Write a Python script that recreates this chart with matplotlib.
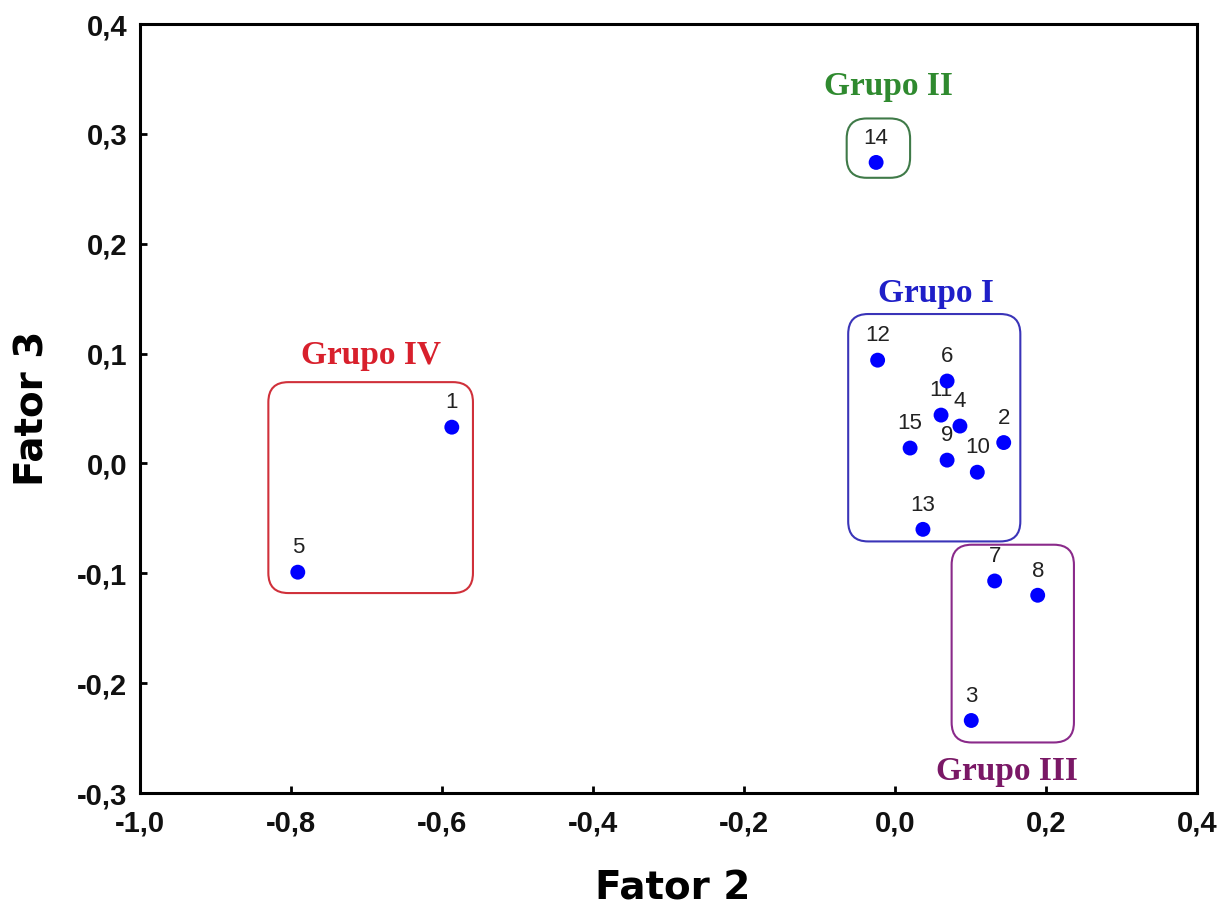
import matplotlib
matplotlib.use("Agg")
import matplotlib.pyplot as plt
from matplotlib.patches import FancyBboxPatch
from matplotlib.ticker import FuncFormatter, MultipleLocator
from matplotlib.transforms import offset_copy

# Scores of the 15 samples on factors 2 and 3
sample_ids = ["1", "2", "3", "4", "5", "6", "7", "8", "9", "10",
              "11", "12", "13", "14", "15"]
fator2 = [-0.587, 0.144, 0.101, 0.086, -0.791, 0.069, 0.132, 0.189, 0.069, 0.109,
          0.061, -0.023, 0.037, -0.025, 0.020]
fator3 = [0.033, 0.019, -0.234, 0.034, -0.099, 0.075, -0.107, -0.120, 0.003, -0.008,
          0.044, 0.094, -0.060, 0.274, 0.014]

# Group enclosures (x0, x1, y0, y1) in factor units
group_names = ["Grupo I", "Grupo II", "Grupo III", "Grupo IV"]
group_bounds = [(-0.062, 0.166, -0.071, 0.136),
                (-0.064, 0.020, 0.260, 0.314),
                (0.075, 0.237, -0.254, -0.074),
                (-0.830, -0.559, -0.118, 0.074)]
group_edge = ["#3a34b8", "#3f7a48", "#8a2a8a", "#d0303a"]
group_text = ["#1f1fc8", "#2f8a2f", "#7a1866", "#d8202c"]
# title placement: (dx, dy) in points from box top (or bottom for "below")
group_title_pos = [("above", 1, 9), ("above", 7, 17), ("below", -4, -27), ("above", 0, 13)]

W, H, DPI = 1231, 909, 100
fig = plt.figure(figsize=(W / DPI, H / DPI), dpi=DPI)
ax = fig.add_axes([140 / W, 1 - 793 / H, (1197 - 140) / W, (793 - 24) / H])

xlim = (-1.0, 0.4)
ylim = (-0.3, 0.4)
ax.set_xlim(*xlim)
ax.set_ylim(*ylim)

# pixels per data unit on each axis, so rounded corners stay circular
px_x = (1197 - 140) / (xlim[1] - xlim[0])
px_y = (793 - 24) / (ylim[1] - ylim[0])
aspect = px_x / px_y
corner_px = 20

for name, (x0, x1, y0, y1), ec, tc, (side, dx, dy) in zip(
        group_names, group_bounds, group_edge, group_text, group_title_pos):
    box = FancyBboxPatch((x0, y0), x1 - x0, y1 - y0,
                         boxstyle=f"round,pad=0,rounding_size={corner_px / px_x}",
                         mutation_aspect=aspect,
                         fc="none", ec=ec, lw=1.5, zorder=2)
    ax.add_patch(box)
    xc = (x0 + x1) / 2
    yref = y1 if side == "above" else y0
    tr = offset_copy(ax.transData, fig=fig, x=dx, y=dy, units="points")
    ax.text(xc, yref, name, transform=tr, ha="center", va="baseline", color=tc,
            family="Liberation Serif", fontweight="bold", fontsize=24, zorder=4)

# Sample numbers sit above each point; the dots are drawn over them
for sid, x, y in zip(sample_ids, fator2, fator3):
    ax.annotate(sid, (x, y), xytext=(0, 13.5), textcoords="offset points",
                ha="center", va="baseline", fontsize=16, color="#222222",
                family="Liberation Sans", zorder=3)

ax.scatter(fator2, fator3, s=115, color="#0000ff", edgecolors="none", zorder=5)

ax.xaxis.set_major_locator(MultipleLocator(0.2))
ax.yaxis.set_major_locator(MultipleLocator(0.1))
fmt = FuncFormatter(lambda v, p: f"{v:.1f}".replace(".", ",").replace("-0,0", "0,0"))
ax.xaxis.set_major_formatter(fmt)
ax.yaxis.set_major_formatter(fmt)
ax.tick_params(direction="in", length=5, width=2, top=False, right=False,
               labelsize=21)
ax.tick_params(axis="x", pad=12)
ax.tick_params(axis="y", pad=9)
for lab in ax.get_xticklabels() + ax.get_yticklabels():
    lab.set_fontweight("bold")
    lab.set_family("Liberation Sans")
    lab.set_color("#111111")

for sp in ax.spines.values():
    sp.set_linewidth(2.2)

ax.set_xlabel("Fator 2", fontsize=28, fontweight="bold", family="DejaVu Sans")
ax.set_ylabel("Fator 3", fontsize=28, fontweight="bold", family="DejaVu Sans")
ax.xaxis.label.set_va("baseline")
ax.yaxis.label.set_va("baseline")
ax.xaxis.set_label_coords(0.504, (793 - 899) / (793 - 24))
ax.yaxis.set_label_coords((43 - 140) / (1197 - 140), 0.5)

fig.savefig("out.png", dpi=DPI)
